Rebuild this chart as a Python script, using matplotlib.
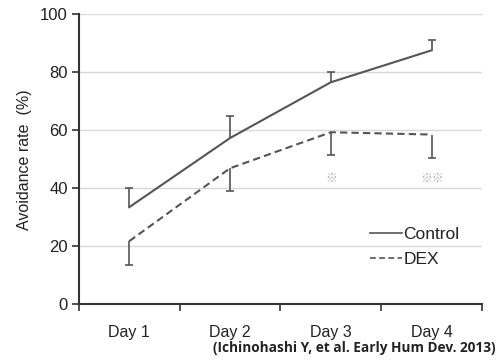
import matplotlib
matplotlib.use("Agg")
import matplotlib.pyplot as plt
import numpy as np

days = ["Day 1", "Day 2", "Day 3", "Day 4"]
control = [33.5, 57.3, 76.5, 87.5]
control_err = [6.5, 7.5, 3.7, 3.4]
dex = [21.8, 46.9, 59.3, 58.5]
dex_err = [8.2, 7.9, 8.0, 7.9]
sig_labels = ["", "", "※", "※※"]
sig_y = [43.5, 43.5, 43.5, 43.5]
yticks = [0, 20, 40, 60, 80, 100]

plt.rcParams['font.family'] = ['Liberation Sans', 'DejaVu Sans']
fig = plt.figure(figsize=(4.99, 3.64), dpi=100)
ax = fig.add_axes([0.158, 0.1635, 0.808, 0.798])

x = np.arange(len(days))
lc = "#555555"
ax.plot(x, control, color=lc, lw=1.5, ls='-', label="Control", zorder=3)
ctop = np.array(control) + np.array(control_err)
ax.vlines(x, control, ctop, color=lc, lw=1.2, zorder=3)
ax.plot(x, ctop, ls='none', marker='_', ms=6, mew=1.2, color=lc, zorder=3)

ax.plot(x, dex, color=lc, lw=1.5, ls=(0, (3.5, 2)), label="DEX", zorder=3)
dbot = np.array(dex) - np.array(dex_err)
ax.vlines(x, dbot, dex, color=lc, lw=1.2, zorder=3)
ax.plot(x, dbot, ls='none', marker='_', ms=6, mew=1.2, color=lc, zorder=3)

for xi, s, yv in zip(x, sig_labels, sig_y):
    if s:
        ax.text(xi, yv, s, ha='center', va='center', fontsize=8.5, color='#aaaaaa',
                family=['Noto Sans CJK JP', 'DejaVu Sans'])

ax.set_ylim(0, 100)
ax.set_xlim(-0.5, 3.5)
ax.set_yticks(yticks)
ax.set_yticklabels([str(v) for v in yticks], fontsize=12, color='#222222')
ax.yaxis.grid(True, color='#d9d9d9', lw=1)
ax.set_axisbelow(True)
ax.set_xticks(x)
ax.set_xticklabels(days, fontsize=11.5, color='#222222')
ax.tick_params(axis='x', which='major', length=0, pad=15)
ax.set_xticks(np.arange(-0.5, 4.0, 1.0), minor=True)
ax.tick_params(axis='x', which='minor', length=5, width=1.2, color='#333333')
ax.tick_params(axis='y', length=5, width=1.2, color='#333333', pad=3)
for s in ['top', 'right']:
    ax.spines[s].set_visible(False)
for s in ['left', 'bottom']:
    ax.spines[s].set_linewidth(1.5)
    ax.spines[s].set_color('#333333')

ax.set_ylabel("Avoidance rate  (%)", fontsize=11.5, color='#222222', labelpad=6)

leg = ax.legend(loc='lower right', bbox_to_anchor=(0.983, 0.076), frameon=False,
                fontsize=12.5, handlelength=1.8, handletextpad=0.1,
                labelspacing=0.55)
for t in leg.get_texts():
    t.set_color('#222222')
for h in leg.get_lines():
    h.set_linewidth(1.2)

fig.text(0.992, 0.044, "(Ichinohashi Y, et al. Early Hum Dev. 2013)", ha='right',
         va='center', fontsize=9.8, fontweight='bold', color='#222222',
         family=['Open Sans', 'DejaVu Sans'])

fig.savefig("out.png", dpi=100)
